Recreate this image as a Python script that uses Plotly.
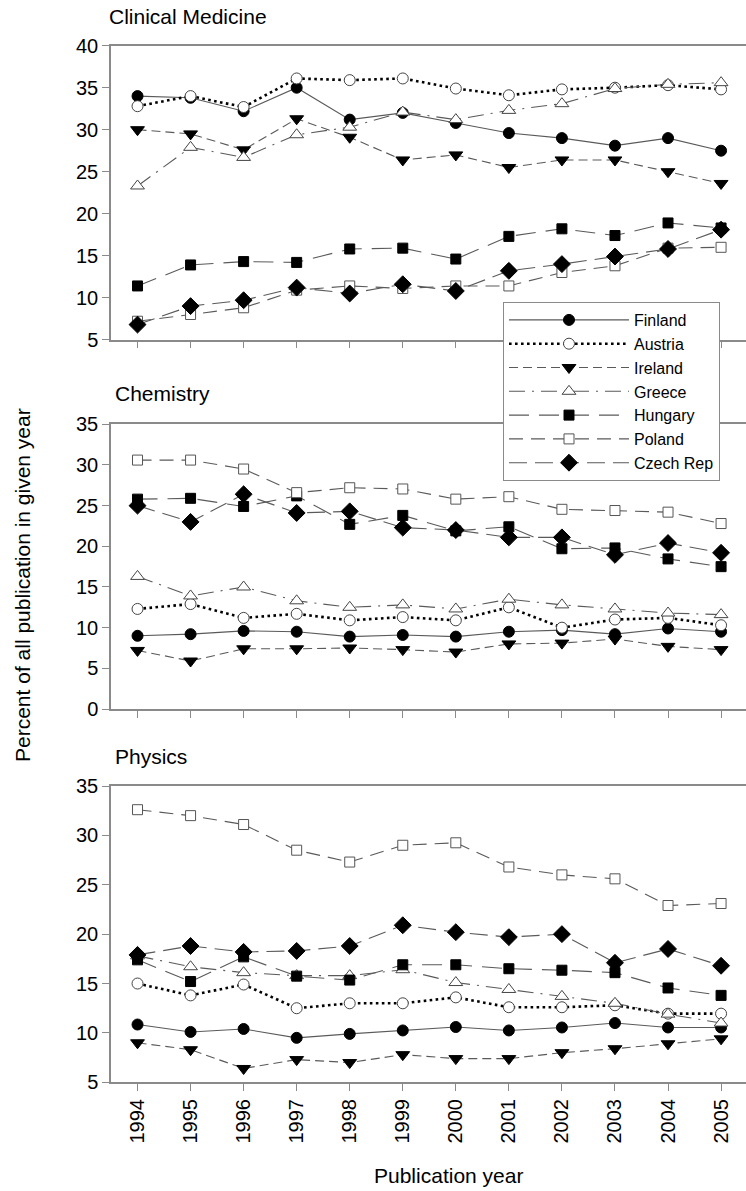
import plotly.graph_objects as go

years = list(range(1994, 2006))
countries = ["Finland", "Austria", "Ireland", "Greece", "Hungary", "Poland", "Czech Rep"]

# Clinical Medicine
finland_cm = [34.0, 33.8, 32.2, 35.0, 31.2, 32.0, 30.8, 29.6, 29.0, 28.1, 29.0, 27.5]
austria_cm = [32.8, 34.0, 32.7, 36.1, 35.9, 36.1, 34.9, 34.1, 34.8, 35.0, 35.3, 34.8]
ireland_cm = [30.0, 29.5, 27.6, 31.3, 29.1, 26.4, 27.0, 25.5, 26.4, 26.4, 25.0, 23.6]
greece_cm = [23.3, 27.9, 26.7, 29.4, 30.3, 32.1, 31.2, 32.3, 33.1, 34.9, 35.4, 35.6]
hungary_cm = [11.4, 13.9, 14.3, 14.2, 15.8, 15.9, 14.6, 17.3, 18.2, 17.4, 18.9, 18.3]
poland_cm = [7.2, 8.0, 8.8, 10.9, 11.4, 11.1, 11.4, 11.4, 13.0, 13.8, 15.9, 16.0]
czech_cm = [6.8, 9.0, 9.7, 11.2, 10.5, 11.6, 10.8, 13.2, 14.0, 14.9, 15.8, 18.1]

# Chemistry
finland_ch = [9.0, 9.2, 9.6, 9.5, 8.9, 9.1, 8.9, 9.5, 9.7, 9.2, 9.9, 9.5]
austria_ch = [12.3, 12.9, 11.2, 11.7, 10.9, 11.3, 10.9, 12.5, 10.0, 11.0, 11.2, 10.3]
ireland_ch = [7.2, 5.9, 7.4, 7.4, 7.5, 7.3, 7.0, 8.0, 8.1, 8.6, 7.7, 7.3]
greece_ch = [16.3, 13.9, 15.0, 13.3, 12.5, 12.8, 12.3, 13.5, 12.8, 12.3, 11.8, 11.6]
hungary_ch = [25.8, 25.9, 24.9, 26.2, 22.7, 23.8, 21.9, 22.4, 19.7, 19.8, 18.45, 17.5]
poland_ch = [30.6, 30.6, 29.5, 26.6, 27.2, 27.05, 25.8, 26.1, 24.55, 24.4, 24.2, 22.8]
czech_ch = [25.0, 23.0, 26.4, 24.1, 24.3, 22.3, 22.0, 21.1, 21.1, 18.95, 20.4, 19.2]

# Physics
finland_ph = [10.85, 10.1, 10.4, 9.5, 9.9, 10.25, 10.6, 10.25, 10.55, 11.0, 10.55, 10.55]
austria_ph = [15.0, 13.8, 14.9, 12.5, 13.0, 13.0, 13.6, 12.6, 12.6, 12.8, 11.95, 11.95]
ireland_ph = [9.0, 8.3, 6.4, 7.3, 7.0, 7.8, 7.4, 7.4, 8.0, 8.4, 8.9, 9.4]
greece_ph = [17.8, 16.7, 16.1, 15.8, 15.8, 16.4, 15.1, 14.4, 13.7, 13.0, 11.9, 11.0]
hungary_ph = [17.4, 15.2, 17.7, 15.75, 15.35, 16.9, 16.9, 16.5, 16.35, 16.1, 14.55, 13.8]
poland_ph = [32.6, 32.0, 31.1, 28.5, 27.3, 29.0, 29.25, 26.8, 26.0, 25.6, 22.9, 23.1]
czech_ph = [17.9, 18.8, 18.2, 18.3, 18.8, 20.9, 20.2, 19.7, 20.0, 17.1, 18.5, 16.8]

panel_titles = ["Clinical Medicine", "Chemistry", "Physics"]
panels = [
    [finland_cm, austria_cm, ireland_cm, greece_cm, hungary_cm, poland_cm, czech_cm],
    [finland_ch, austria_ch, ireland_ch, greece_ch, hungary_ch, poland_ch, czech_ch],
    [finland_ph, austria_ph, ireland_ph, greece_ph, hungary_ph, poland_ph, czech_ph],
]
y_ranges = [[5, 40], [0, 35], [5, 35]]

FONT = "Liberation Sans, Arial, sans-serif"
LINE_GRAY = "#5a5a5a"
AXIS_GRAY = "#8a8a8a"

styles = {
    "Finland": dict(line=dict(color=LINE_GRAY, width=1.1, dash="solid"),
                    marker=dict(symbol="circle", size=11, color="black", line=dict(color="black", width=1))),
    "Austria": dict(line=dict(color="black", width=2.6, dash="2.6px,3.4px"),
                    marker=dict(symbol="circle", size=11, color="white", line=dict(color="#444", width=1))),
    "Ireland": dict(line=dict(color=LINE_GRAY, width=1.1, dash="9px,5px"),
                    marker=dict(symbol="triangle-down", size=12, color="black", line=dict(color="black", width=1))),
    "Greece": dict(line=dict(color=LINE_GRAY, width=1.1, dash="16px,7px,2px,7px"),
                   marker=dict(symbol="triangle-up", size=12, color="white", line=dict(color="#444", width=1))),
    "Hungary": dict(line=dict(color=LINE_GRAY, width=1.1, dash="20px,10px"),
                    marker=dict(symbol="square", size=10, color="black", line=dict(color="black", width=1))),
    "Poland": dict(line=dict(color=LINE_GRAY, width=1.1, dash="14px,8px"),
                   marker=dict(symbol="square", size=10, color="white", line=dict(color="#555", width=1))),
    "Czech Rep": dict(line=dict(color=LINE_GRAY, width=1.1, dash="18px,8px"),
                      marker=dict(symbol="diamond", size=13, color="black", line=dict(color="black", width=1))),
}

fig = go.Figure()
for p, series in enumerate(panels):
    suffix = "" if p == 0 else str(p + 1)
    for name, vals in zip(countries, series):
        st = styles[name]
        fig.add_trace(go.Scatter(
            x=years, y=vals, name=name, mode="lines+markers",
            line=st["line"], marker=st["marker"],
            xaxis="x" + suffix, yaxis="y" + suffix,
            showlegend=(p == 0),
        ))

W, H = 746, 1191
x_dom = [111 / W, 1.0]
y_doms = [
    [1 - 339.7 / H, 1 - 45.7 / H],
    [1 - 709.0 / H, 1 - 424.3 / H],
    [1 - 1082.3 / H, 1 - 786.0 / H],
]

layout = dict(
    width=W, height=H,
    margin=dict(l=0, r=0, t=0, b=0, pad=0),
    paper_bgcolor="white", plot_bgcolor="white",
    font=dict(family=FONT, size=20, color="black"),
    showlegend=True,
    legend=dict(
        x=503 / W, y=1 - 302 / H, xanchor="left", yanchor="top",
        bgcolor="white", bordercolor=AXIS_GRAY, borderwidth=1,
        font=dict(family=FONT, size=16, color="black"),
        itemwidth=120, tracegroupgap=0,
    ),
)

for p in range(3):
    suffix = "" if p == 0 else str(p + 1)
    layout["xaxis" + suffix] = dict(
        domain=x_dom, anchor="y" + suffix, range=[1993.5, 2005.47],
        tickmode="array", tickvals=years, ticktext=[str(y) for y in years],
        showticklabels=(p == 2), tickangle=-90,
        ticks="outside", ticklen=7, tickwidth=1, tickcolor=AXIS_GRAY,
        showline=True, linecolor=AXIS_GRAY, linewidth=1.5, mirror=True,
        showgrid=False, zeroline=False, automargin=False,
        tickfont=dict(family=FONT, size=20),
    )
    layout["yaxis" + suffix] = dict(
        domain=y_doms[p], anchor="x" + suffix, range=y_ranges[p], dtick=5,
        ticks="outside", ticklen=7, tickwidth=1, tickcolor=AXIS_GRAY,
        showline=True, linecolor=AXIS_GRAY, linewidth=1.5,
        showgrid=False, zeroline=False, automargin=False,
        tickfont=dict(family=FONT, size=20),
    )

fig.update_layout(**layout)

title_pos = [(107, 17), (113, 393), (113, 756)]
for t, (tx, ty) in zip(panel_titles, title_pos):
    fig.add_annotation(text=t, x=tx / W, y=1 - ty / H, xref="paper", yref="paper",
                       xanchor="left", yanchor="middle", showarrow=False,
                       font=dict(family=FONT, size=21, color="black"))

fig.add_annotation(text="Percent of all publication in given year", x=22 / W, y=1 - 585 / H,
                   xref="paper", yref="paper", textangle=-90, showarrow=False,
                   xanchor="center", yanchor="middle", font=dict(family=FONT, size=21))
fig.add_annotation(text="Publication year", x=449 / W, y=1 - 1175 / H,
                   xref="paper", yref="paper", showarrow=False,
                   xanchor="center", yanchor="middle", font=dict(family=FONT, size=21))

fig.write_html("out.html")
